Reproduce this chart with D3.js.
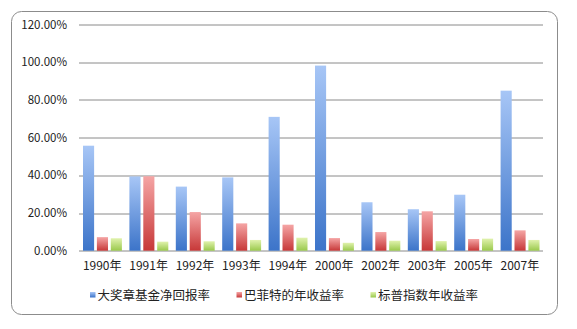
<!DOCTYPE html>
<html>
<head>
<meta charset="utf-8">
<script src="https://cdn.jsdelivr.net/npm/d3@7"></script>
<style>
  body { margin: 0; background: #fff; }
  text { font-family: "Noto Sans CJK SC", "DejaVu Sans", sans-serif; fill: #222; }
</style>
</head>
<body>
<div id="chart"></div>
<script>
// data
var years = ['1990年', '1991年', '1992年', '1993年', '1994年', '2000年', '2002年', '2003年', '2005年', '2007年']
var medallion = [55.7, 39.4, 34.0, 38.9, 71.0, 98.2, 25.7, 22.0, 29.7, 84.9]
var buffett = [7.2, 39.5, 20.5, 14.5, 13.8, 6.7, 9.9, 20.9, 6.2, 10.8]
var sp500 = [6.6, 4.8, 5.0, 5.7, 6.9, 4.2, 5.3, 5.1, 6.4, 5.7]
var seriesNames = ['大奖章基金净回报率', '巴菲特的年收益率', '标普指数年收益率']
var yTicks = [0, 20, 40, 60, 80, 100, 120]

var W = 577, H = 329
var margin = {top: 24.5, left: 79, right: 34, bottom: 78.3}
var width = W - margin.left - margin.right,
    height = H - margin.top - margin.bottom

var colors = [
  {id: 'gBlue', top: '#a7c6f6', bottom: '#3c74c9'},
  {id: 'gRed', top: '#f5a5a5', bottom: '#c73838'},
  {id: 'gGreen', top: '#e0f2ad', bottom: '#9ac94c'}
]

var svg = d3.select('#chart').append('svg')
  .attr('width', W)
  .attr('height', H)

var defs = svg.append('defs')
colors.forEach(function(c) {
  var g = defs.append('linearGradient')
    .attr('id', c.id)
    .attr('x1', '0%').attr('y1', '0%')
    .attr('x2', '0%').attr('y2', '100%')
  g.append('stop').attr('offset', '0%').attr('stop-color', c.top)
  g.append('stop').attr('offset', '100%').attr('stop-color', c.bottom)
})

// outer frame
svg.append('rect')
  .attr('x', 11.5).attr('y', 11.5)
  .attr('width', 546).attr('height', 303)
  .attr('rx', 10).attr('ry', 10)
  .style('fill', '#fff')
  .style('stroke', '#8c8c8c')
  .style('stroke-width', 1)

var chart = svg.append('g')
  .attr('transform', 'translate(' + margin.left + ',' + margin.top + ')')

var x = d3.scaleBand().domain(years).range([0, width]).paddingInner(0).paddingOuter(0)
var y = d3.scaleLinear().domain([0, 120]).range([height, 0])

var inner = d3.scaleBand().domain([0, 1, 2]).range([4, x.bandwidth() - 3.5]).paddingInner(0.2)

// grid lines
chart.selectAll('.grid')
  .data(yTicks)
  .enter()
  .append('line')
  .attr('x1', 0).attr('x2', width)
  .attr('y1', function(d) { return Math.round(y(d)) + 0.5 })
  .attr('y2', function(d) { return Math.round(y(d)) + 0.5 })
  .style('stroke', '#8a8a8a')
  .style('stroke-width', 1)

// y axis labels
var yAxis = d3.axisLeft(y).tickValues(yTicks).tickSize(0).tickPadding(12)
  .tickFormat(function(d) { return d.toFixed(2) + '%' })
chart.append('g').call(yAxis)
  .call(function(g) { g.select('.domain').remove() })
  .selectAll('text')
  .style('font-size', '11.5px')
  .style('fill', '#222')

// x axis labels
var xAxis = d3.axisBottom(x).tickSize(0).tickPadding(11)
chart.append('g')
  .attr('transform', 'translate(0,' + height + ')')
  .call(xAxis)
  .call(function(g) { g.select('.domain').remove() })
  .selectAll('text')
  .style('font-size', '12px')
  .style('fill', '#222')

// bars
var series = [medallion, buffett, sp500]
series.forEach(function(vals, si) {
  chart.selectAll('.bar' + si)
    .data(vals)
    .enter()
    .append('rect')
    .attr('x', function(d, i) { return x(years[i]) + inner(si) })
    .attr('width', inner.bandwidth())
    .attr('y', function(d) { return y(d) })
    .attr('height', function(d) { return y(0) - y(d) })
    .style('fill', 'url(#' + colors[si].id + ')')
})

// legend
var legendX = [90, 236.5, 370.5]
var legend = svg.selectAll('.legend')
  .data(seriesNames)
  .enter()
  .append('g')
  .attr('transform', function(d, i) { return 'translate(' + legendX[i] + ',295)' })

legend.append('rect')
  .attr('x', 0).attr('y', -3)
  .attr('width', 5.5).attr('height', 5.5)
  .style('fill', function(d, i) { return 'url(#' + colors[i].id + ')' })

legend.append('text')
  .attr('x', 7.5)
  .attr('y', 0)
  .attr('dy', '0.36em')
  .style('font-size', '12.5px')
  .text(function(d) { return d })
</script>
</body>
</html>
